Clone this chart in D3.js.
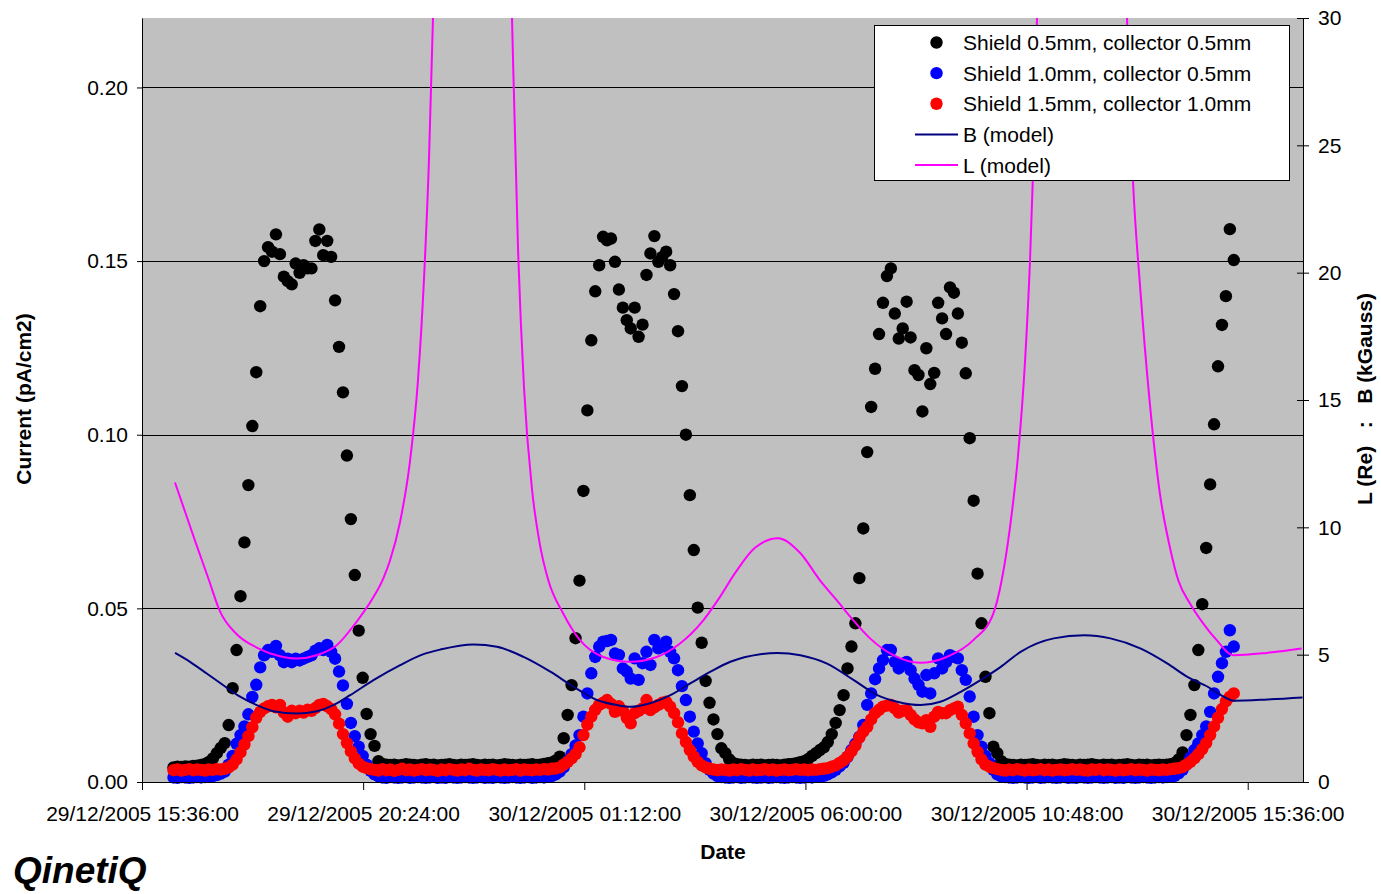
<!DOCTYPE html>
<html>
<head>
<meta charset="utf-8">
<script src="https://cdn.jsdelivr.net/npm/d3@7"></script>
<style>
  body { margin: 0; background: #ffffff; }
  text { font-family: "Liberation Sans", Arial, Helvetica, sans-serif; }
</style>
</head>
<body>
<svg id="chart" width="1381" height="894"></svg>
<script>
// ---------------------------------------------------------------------------
// Data
// ---------------------------------------------------------------------------
const seriesNames = [
  "Shield 0.5mm, collector 0.5mm",
  "Shield 1.0mm, collector 0.5mm",
  "Shield 1.5mm, collector 1.0mm"
];
const lineNames = ["B (model)", "L (model)"];

const xTickLabels = [
  "29/12/2005 15:36:00", "29/12/2005 20:24:00", "30/12/2005 01:12:00",
  "30/12/2005 06:00:00", "30/12/2005 10:48:00", "30/12/2005 15:36:00"
];
const xAxisEnd = "30/12/2005 16:48:00";
const yLeftTicks = [0, 0.05, 0.10, 0.15, 0.20];
const yRightTicks = [0, 5, 10, 15, 20, 25, 30];

// Detector samples: one reading every 308 s starting at sampleStart
const sampleStart = "29/12/2005 16:17:00";
const sampleStepSeconds = 308;

// Current (pA/cm2)
const shield05 = [
  0.0042, 0.0044, 0.0043, 0.0045, 0.0044, 0.0046, 0.0047, 0.0049, 0.0052, 0.0058,
  0.0068, 0.0083, 0.0098, 0.0112, 0.0164, 0.0270, 0.0380, 0.0535, 0.0690, 0.0855,
  0.1025, 0.1180, 0.1370, 0.1500, 0.1540, 0.1527, 0.1577, 0.1520, 0.1455, 0.1442,
  0.1433, 0.1493, 0.1466, 0.1488, 0.1479, 0.1479, 0.1558, 0.1591, 0.1517, 0.1558,
  0.1512, 0.1387, 0.1253, 0.1122, 0.0940, 0.0757, 0.0596, 0.0436, 0.0300, 0.0196,
  0.0138, 0.0104, 0.0060, 0.0052, 0.0050, 0.0049, 0.0050, 0.0048, 0.0049, 0.0051,
  0.0050, 0.0049, 0.0048, 0.0050, 0.0051, 0.0049, 0.0050, 0.0048, 0.0049, 0.0050,
  0.0051, 0.0049, 0.0048, 0.0050, 0.0049, 0.0050, 0.0051, 0.0049, 0.0048, 0.0050,
  0.0049, 0.0050, 0.0048, 0.0049, 0.0051, 0.0050, 0.0049, 0.0048, 0.0050, 0.0049,
  0.0050, 0.0051, 0.0049, 0.0050, 0.0052, 0.0054, 0.0056, 0.0062, 0.0073, 0.0126,
  0.0193, 0.0279, 0.0414, 0.0580, 0.0838, 0.1070, 0.1272, 0.1413, 0.1488, 0.1570,
  0.1560, 0.1565, 0.1498, 0.1418, 0.1366, 0.1330, 0.1306, 0.1366, 0.1282, 0.1317,
  0.1460, 0.1522, 0.1572, 0.1498, 0.1512, 0.1527, 0.1488, 0.1405, 0.1298, 0.1140,
  0.1000, 0.0826, 0.0668, 0.0502, 0.0401, 0.0291, 0.0228, 0.0180, 0.0138, 0.0097,
  0.0083, 0.0065, 0.0055, 0.0051, 0.0050, 0.0049, 0.0048, 0.0050, 0.0049, 0.0050,
  0.0048, 0.0049, 0.0050, 0.0049, 0.0048, 0.0050, 0.0051, 0.0052, 0.0054, 0.0057,
  0.0060, 0.0066, 0.0075, 0.0083, 0.0092, 0.0100, 0.0115, 0.0138, 0.0170, 0.0207,
  0.0250, 0.0327, 0.0390, 0.0457, 0.0587, 0.0730, 0.0950, 0.1080, 0.1190, 0.1290,
  0.1380, 0.1457, 0.1479, 0.1349, 0.1277, 0.1306, 0.1383, 0.1280, 0.1186, 0.1172,
  0.1067, 0.1249, 0.1146, 0.1178, 0.1380, 0.1335, 0.1290, 0.1424, 0.1409, 0.1349,
  0.1265, 0.1177, 0.0990, 0.0810, 0.0600, 0.0457, 0.0303, 0.0198, 0.0102, 0.0083,
  0.0060, 0.0052, 0.0050, 0.0049, 0.0048, 0.0050, 0.0049, 0.0050, 0.0051, 0.0049,
  0.0048, 0.0050, 0.0049, 0.0050, 0.0048, 0.0049, 0.0051, 0.0050, 0.0049, 0.0048,
  0.0050, 0.0049, 0.0050, 0.0051, 0.0049, 0.0048, 0.0050, 0.0049, 0.0050, 0.0048,
  0.0049, 0.0050, 0.0051, 0.0049, 0.0048, 0.0050, 0.0049, 0.0050, 0.0048, 0.0049,
  0.0050, 0.0049, 0.0050, 0.0051, 0.0055, 0.0065, 0.0085, 0.0135, 0.0193, 0.0279,
  0.0380, 0.0512, 0.0674, 0.0857, 0.1030, 0.1197, 0.1316, 0.1399, 0.1592, 0.1503
];

const shield10 = [
  0.0013, 0.0012, 0.0014, 0.0013, 0.0012, 0.0013, 0.0014, 0.0013, 0.0014, 0.0015,
  0.0017, 0.0020, 0.0024, 0.0030, 0.0050, 0.0075, 0.0110, 0.0135, 0.0160, 0.0195,
  0.0245, 0.0280, 0.0330, 0.0365, 0.0380, 0.0375, 0.0392, 0.0365, 0.0345, 0.0355,
  0.0345, 0.0355, 0.0350, 0.0355, 0.0360, 0.0365, 0.0378, 0.0385, 0.0380, 0.0395,
  0.0375, 0.0355, 0.0318, 0.0278, 0.0225, 0.0170, 0.0132, 0.0102, 0.0075, 0.0050,
  0.0032, 0.0022, 0.0016, 0.0013, 0.0012, 0.0014, 0.0013, 0.0012, 0.0013, 0.0014,
  0.0012, 0.0013, 0.0014, 0.0013, 0.0012, 0.0013, 0.0014, 0.0012, 0.0013, 0.0012,
  0.0014, 0.0013, 0.0012, 0.0013, 0.0014, 0.0013, 0.0012, 0.0013, 0.0014, 0.0012,
  0.0013, 0.0012, 0.0014, 0.0013, 0.0012, 0.0013, 0.0014, 0.0013, 0.0012, 0.0013,
  0.0014, 0.0012, 0.0013, 0.0014, 0.0013, 0.0015, 0.0017, 0.0022, 0.0030, 0.0042,
  0.0060, 0.0080, 0.0105, 0.0135, 0.0188, 0.0255, 0.0313, 0.0360, 0.0390, 0.0404,
  0.0406, 0.0409, 0.0370, 0.0366, 0.0327, 0.0318, 0.0298, 0.0356, 0.0294, 0.0342,
  0.0375, 0.0337, 0.0409, 0.0385, 0.0390, 0.0404, 0.0375, 0.0356, 0.0322, 0.0276,
  0.0236, 0.0188, 0.0145, 0.0111, 0.0083, 0.0054, 0.0035, 0.0024, 0.0017, 0.0014,
  0.0013, 0.0012, 0.0013, 0.0014, 0.0012, 0.0013, 0.0014, 0.0013, 0.0012, 0.0013,
  0.0014, 0.0012, 0.0013, 0.0014, 0.0013, 0.0012, 0.0013, 0.0014, 0.0013, 0.0012,
  0.0013, 0.0014, 0.0013, 0.0015, 0.0016, 0.0018, 0.0022, 0.0028, 0.0035, 0.0045,
  0.0055, 0.0072, 0.0092, 0.0110, 0.0130, 0.0164, 0.0222, 0.0255, 0.0296, 0.0327,
  0.0351, 0.0380, 0.0380, 0.0346, 0.0327, 0.0340, 0.0346, 0.0322, 0.0298, 0.0280,
  0.0260, 0.0308, 0.0255, 0.0313, 0.0356, 0.0327, 0.0345, 0.0365, 0.0360, 0.0356,
  0.0322, 0.0294, 0.0246, 0.0188, 0.0135, 0.0102, 0.0075, 0.0055, 0.0035, 0.0022,
  0.0016, 0.0014, 0.0013, 0.0012, 0.0013, 0.0014, 0.0013, 0.0012, 0.0013, 0.0014,
  0.0012, 0.0013, 0.0014, 0.0013, 0.0012, 0.0013, 0.0014, 0.0012, 0.0013, 0.0012,
  0.0014, 0.0013, 0.0012, 0.0013, 0.0014, 0.0013, 0.0012, 0.0013, 0.0014, 0.0012,
  0.0013, 0.0012, 0.0014, 0.0013, 0.0012, 0.0013, 0.0014, 0.0013, 0.0012, 0.0013,
  0.0014, 0.0013, 0.0014, 0.0015, 0.0018, 0.0025, 0.0035, 0.0050, 0.0070, 0.0092,
  0.0111, 0.0135, 0.0160, 0.0202, 0.0255, 0.0303, 0.0342, 0.0375, 0.0437, 0.0390
];

const shield15 = [
  0.0034, 0.0036, 0.0033, 0.0035, 0.0037, 0.0034, 0.0036, 0.0035, 0.0033, 0.0036,
  0.0035, 0.0037, 0.0036, 0.0038, 0.0042, 0.0050, 0.0065, 0.0085, 0.0108, 0.0132,
  0.0158, 0.0185, 0.0202, 0.0212, 0.0218, 0.0222, 0.0215, 0.0222, 0.0200, 0.0188,
  0.0205, 0.0198, 0.0205, 0.0200, 0.0208, 0.0205, 0.0213, 0.0222, 0.0225, 0.0218,
  0.0210, 0.0195, 0.0168, 0.0138, 0.0112, 0.0088, 0.0068, 0.0053, 0.0044, 0.0040,
  0.0037, 0.0035, 0.0033, 0.0037, 0.0034, 0.0036, 0.0032, 0.0035, 0.0038, 0.0034,
  0.0036, 0.0033, 0.0035, 0.0037, 0.0034, 0.0036, 0.0035, 0.0032, 0.0036, 0.0034,
  0.0037, 0.0035, 0.0033, 0.0036, 0.0034, 0.0038, 0.0035, 0.0033, 0.0036, 0.0035,
  0.0034, 0.0037, 0.0035, 0.0033, 0.0036, 0.0034, 0.0035, 0.0037, 0.0033, 0.0036,
  0.0035, 0.0034, 0.0036, 0.0035, 0.0037, 0.0036, 0.0038, 0.0039, 0.0042, 0.0050,
  0.0058, 0.0068, 0.0080, 0.0100, 0.0135, 0.0165, 0.0188, 0.0208, 0.0222, 0.0228,
  0.0236, 0.0225, 0.0202, 0.0218, 0.0205, 0.0185, 0.0169, 0.0198, 0.0205, 0.0212,
  0.0236, 0.0207, 0.0215, 0.0222, 0.0228, 0.0231, 0.0217, 0.0198, 0.0172, 0.0140,
  0.0115, 0.0092, 0.0073, 0.0058, 0.0048, 0.0042, 0.0038, 0.0036, 0.0034, 0.0036,
  0.0035, 0.0033, 0.0036, 0.0034, 0.0037, 0.0035, 0.0033, 0.0036, 0.0034, 0.0035,
  0.0037, 0.0034, 0.0036, 0.0033, 0.0035, 0.0036, 0.0034, 0.0035, 0.0037, 0.0035,
  0.0036, 0.0034, 0.0036, 0.0035, 0.0037, 0.0038, 0.0040, 0.0044, 0.0048, 0.0055,
  0.0062, 0.0073, 0.0088, 0.0105, 0.0128, 0.0145, 0.0159, 0.0180, 0.0198, 0.0208,
  0.0217, 0.0220, 0.0222, 0.0212, 0.0200, 0.0205, 0.0207, 0.0193, 0.0180, 0.0172,
  0.0169, 0.0178, 0.0159, 0.0188, 0.0202, 0.0198, 0.0198, 0.0207, 0.0212, 0.0217,
  0.0193, 0.0169, 0.0140, 0.0111, 0.0087, 0.0065, 0.0050, 0.0044, 0.0040, 0.0037,
  0.0035, 0.0033, 0.0036, 0.0034, 0.0037, 0.0035, 0.0033, 0.0036, 0.0034, 0.0035,
  0.0037, 0.0034, 0.0036, 0.0033, 0.0035, 0.0036, 0.0034, 0.0035, 0.0037, 0.0035,
  0.0036, 0.0034, 0.0033, 0.0036, 0.0035, 0.0037, 0.0034, 0.0036, 0.0035, 0.0033,
  0.0036, 0.0034, 0.0035, 0.0037, 0.0034, 0.0036, 0.0035, 0.0033, 0.0036, 0.0035,
  0.0034, 0.0036, 0.0035, 0.0037, 0.0038, 0.0040, 0.0043, 0.0050, 0.0058, 0.0068,
  0.0080, 0.0095, 0.0112, 0.0135, 0.0160, 0.0185, 0.0210, 0.0232, 0.0245, 0.0255
];

// Field model, times given in hours after 29/12/2005 15:36
const bHours = [
  0.717, 1.043, 1.405, 1.766, 2.129, 2.491, 2.852, 3.360, 3.795, 4.155,
  4.518, 5.024, 5.604, 6.110, 6.473, 7.196, 7.704, 8.282, 8.862, 9.368,
  9.876, 10.31, 10.60, 11.03, 11.47, 11.90, 12.34, 12.77, 13.42, 13.79,
  14.29, 14.87, 15.45, 15.96, 16.39, 16.90, 17.33, 17.77, 18.20, 18.64,
  19.07, 19.79, 20.45, 21.02, 21.68, 22.26, 22.69, 23.13, 23.42, 23.70,
  24.43, 25.19
];
const bValues = [
  5.07, 4.72, 4.26, 3.80, 3.35, 3.02, 2.78, 2.69, 2.78, 3.02,
  3.41, 4.00, 4.59, 5.02, 5.20, 5.40, 5.31, 4.91, 4.33, 3.74,
  3.22, 3.02, 2.95, 3.09, 3.41, 3.87, 4.33, 4.72, 5.02, 5.07,
  4.98, 4.65, 4.00, 3.41, 3.15, 3.02, 3.15, 3.54, 4.00, 4.52,
  5.11, 5.64, 5.76, 5.64, 5.24, 4.65, 4.13, 3.74, 3.41, 3.19,
  3.24, 3.32
];

const lHours = [
  0.716, 0.933, 1.150, 1.439, 1.693, 2.056, 2.490, 2.995, 3.358, 3.792,
  4.226, 4.660, 5.021, 5.238, 5.383, 5.600, 5.817, 5.991, 6.122, 6.230,
  6.316, 6.468, 7.163, 7.879, 8.031, 8.161, 8.291, 8.465, 8.639, 8.819,
  9.145, 9.507, 10.013, 10.592, 11.172, 11.678, 12.183, 12.546, 12.871, 13.305,
  13.805, 14.282, 14.716, 15.079, 15.439, 15.802, 16.308, 16.887, 17.467, 18.044,
  18.478, 18.660, 18.840, 19.014, 19.166, 19.275, 19.361, 19.426, 19.600, 20.403,
  21.228, 21.380, 21.510, 21.662, 21.879, 22.096, 22.313, 22.493, 22.747, 23.036,
  23.327, 23.687, 24.412, 25.171
];
const lValues = [
  11.76, 10.62, 9.48, 8.00, 6.70, 5.80, 5.28, 4.94, 4.85, 4.98,
  5.37, 6.30, 7.25, 8.00, 8.70, 10.20, 12.60, 15.80, 19.80, 24.50,
  30.00, 42.00, 80.00, 42.00, 30.00, 21.00, 15.50, 11.50, 9.30, 7.92,
  6.61, 5.57, 4.91, 4.72, 4.91, 5.44, 6.35, 7.27, 8.20, 9.20,
  9.57, 9.00, 7.92, 7.14, 6.35, 5.64, 4.98, 4.68, 4.91, 5.57,
  6.61, 7.92, 10.00, 12.80, 16.50, 20.50, 25.00, 30.00, 45.00, 80.00,
  45.00, 30.00, 23.60, 19.50, 14.80, 11.30, 9.20, 7.92, 7.01, 6.22,
  5.57, 4.98, 5.07, 5.24
];

// ---------------------------------------------------------------------------
// Layout and scales
// ---------------------------------------------------------------------------
const W = 1381, H = 894;
const plot = { left: 142, right: 1303, top: 18, bottom: 782 };
const FONT = 21;

const parse = d3.timeParse("%d/%m/%Y %H:%M:%S");
const tickDates = xTickLabels.map(parse);
const origin = tickDates[0];
const t0 = parse(sampleStart);
const hourDate = h => new Date(origin.getTime() + h * 3600e3);

const x = d3.scaleTime()
  .domain([origin, parse(xAxisEnd)])
  .range([plot.left, plot.right]);
const yL = d3.scaleLinear().domain([0, 0.22]).range([plot.bottom, plot.top]);
const yR = d3.scaleLinear().domain([0, 30]).range([plot.bottom, plot.top]);

const sampleTime = i => new Date(t0.getTime() + i * sampleStepSeconds * 1000);

const svg = d3.select("#chart");
svg.append("rect").attr("width", W).attr("height", H).attr("fill", "#ffffff");

svg.append("defs").append("clipPath").attr("id", "plotClip")
  .append("rect")
  .attr("x", plot.left).attr("y", plot.top)
  .attr("width", plot.right - plot.left).attr("height", plot.bottom - plot.top);

// plot background
svg.append("rect")
  .attr("x", plot.left).attr("y", plot.top)
  .attr("width", plot.right - plot.left).attr("height", plot.bottom - plot.top)
  .attr("fill", "#c0c0c0");

// horizontal gridlines at the left-axis major ticks
svg.append("g").selectAll("line")
  .data(yLeftTicks.filter(v => v > 0))
  .join("line")
  .attr("x1", plot.left).attr("x2", plot.right)
  .attr("y1", d => Math.round(yL(d)) + 0.5).attr("y2", d => Math.round(yL(d)) + 0.5)
  .attr("stroke", "#000000").attr("stroke-width", 1);

// ---------------------------------------------------------------------------
// Scatter series
// ---------------------------------------------------------------------------
const scatter = [
  { values: shield05, color: "#000000" },
  { values: shield10, color: "#0000ff" },
  { values: shield15, color: "#ff0000" }
];
const dots = svg.append("g");
scatter.forEach(s => {
  dots.append("g").selectAll("circle")
    .data(s.values)
    .join("circle")
    .attr("cx", (d, i) => x(sampleTime(i)))
    .attr("cy", d => yL(d))
    .attr("r", 6.2)
    .attr("fill", s.color);
});

// ---------------------------------------------------------------------------
// Model lines on the right axis
// ---------------------------------------------------------------------------
const lineGen = d3.line()
  .x(d => x(hourDate(d[0])))
  .y(d => yR(d[1]))
  .curve(d3.curveMonotoneX);

const lines = svg.append("g").attr("clip-path", "url(#plotClip)");
lines.append("path")
  .datum(d3.zip(bHours, bValues))
  .attr("d", lineGen)
  .attr("fill", "none").attr("stroke", "#000080").attr("stroke-width", 2);
lines.append("path")
  .datum(d3.zip(lHours, lValues))
  .attr("d", lineGen)
  .attr("fill", "none").attr("stroke", "#ff00ff").attr("stroke-width", 2);

// ---------------------------------------------------------------------------
// Axes
// ---------------------------------------------------------------------------
function styleAxis(g) {
  g.selectAll("path, line").attr("stroke", "#000000").attr("stroke-width", 1);
  g.selectAll("text")
    .attr("fill", "#000000")
    .style("font-size", FONT + "px")
    .style("font-family", '"Liberation Sans", Arial, sans-serif');
}

svg.append("g")
  .attr("transform", `translate(${plot.left},0)`)
  .call(d3.axisLeft(yL).tickValues(yLeftTicks).tickFormat(d3.format(".2f"))
    .tickSize(5).tickSizeOuter(0).tickPadding(9))
  .call(styleAxis);

const rightAxis = svg.append("g")
  .attr("transform", `translate(${plot.right},0)`)
  .call(d3.axisRight(yR).tickValues(yRightTicks).tickFormat(d3.format("d"))
    .tickSize(6).tickSizeOuter(0).tickPadding(9))
  .call(styleAxis);
rightAxis.selectAll(".tick line").attr("x1", -6).attr("x2", 6);

svg.append("g")
  .attr("transform", `translate(0,${plot.bottom})`)
  .call(d3.axisBottom(x).tickValues(tickDates)
    .tickFormat((d, i) => xTickLabels[i])
    .tickSize(8).tickSizeOuter(0).tickPadding(16))
  .call(styleAxis);

// ---------------------------------------------------------------------------
// Titles
// ---------------------------------------------------------------------------
svg.append("text")
  .attr("x", 723).attr("y", 859)
  .attr("text-anchor", "middle")
  .style("font-size", FONT + "px").style("font-weight", "bold")
  .text("Date");

svg.append("text")
  .attr("transform", "translate(31,399) rotate(-90)")
  .attr("text-anchor", "middle")
  .style("font-size", FONT + "px").style("font-weight", "bold")
  .text("Current (pA/cm2)");

svg.append("text")
  .attr("transform", "translate(1372,399) rotate(-90)")
  .attr("text-anchor", "middle")
  .style("font-size", FONT + "px").style("font-weight", "bold")
  .style("white-space", "pre")
  .text("L (Re)   :   B (kGauss)");

svg.append("text")
  .attr("x", 13).attr("y", 883)
  .style("font-size", "37px").style("font-weight", "bold").style("font-style", "italic")
  .text("QinetiQ");

// ---------------------------------------------------------------------------
// Legend
// ---------------------------------------------------------------------------
const legend = svg.append("g");
legend.append("rect")
  .attr("x", 874.5).attr("y", 25.5).attr("width", 415).attr("height", 155)
  .attr("fill", "#ffffff").attr("stroke", "#000000").attr("stroke-width", 1);

const legendRows = [
  { name: seriesNames[0], kind: "dot", color: "#000000" },
  { name: seriesNames[1], kind: "dot", color: "#0000ff" },
  { name: seriesNames[2], kind: "dot", color: "#ff0000" },
  { name: lineNames[0], kind: "line", color: "#000080" },
  { name: lineNames[1], kind: "line", color: "#ff00ff" }
];
const rowY = d3.scalePoint().domain(d3.range(legendRows.length)).range([42.5, 165]);
legendRows.forEach((r, i) => {
  const cy = rowY(i);
  if (r.kind === "dot") {
    legend.append("circle").attr("cx", 936.5).attr("cy", cy).attr("r", 6.2).attr("fill", r.color);
  } else {
    legend.append("line").attr("x1", 915).attr("x2", 958).attr("y1", cy).attr("y2", cy)
      .attr("stroke", r.color).attr("stroke-width", 2);
  }
  legend.append("text")
    .attr("x", 963).attr("y", cy).attr("dy", "0.36em")
    .style("font-size", FONT + "px")
    .text(r.name);
});
</script>
</body>
</html>
